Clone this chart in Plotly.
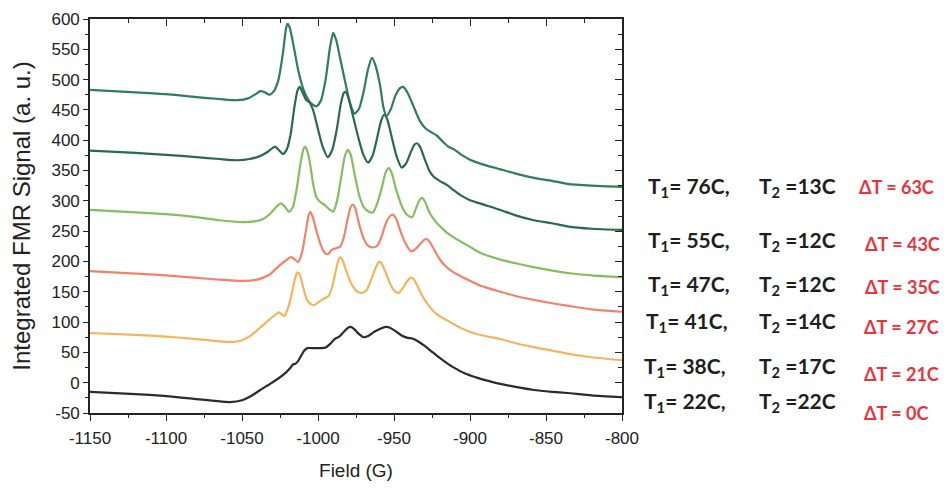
import plotly.graph_objects as go

# ---------------- data ----------------
field_76 = [-1150, -1120, -1100, -1080, -1065, -1053, -1046, -1041, -1038, -1035, -1032, -1029, -1026, -1023,
            -1021, -1020, -1018.5, -1016, -1013, -1009, -1005, -1001, -998, -995, -992, -990, -988, -985,
            -982, -979, -976, -973, -970, -967, -964.5, -962, -959, -957, -955, -952, -949, -946, -944,
            -941, -937, -933, -929, -926, -922, -918, -914, -910, -905, -900, -890, -880, -870, -858,
            -846, -836, -820, -800]
sig_76 = [483, 479, 476, 471, 468, 466, 469, 476, 481, 479, 475, 481, 500, 545,
          585, 592, 585, 555, 515, 480, 462, 456, 466, 500, 555, 577, 565, 530,
          495, 462, 444, 452, 480, 518, 536, 522, 488, 455, 440, 452, 474, 486, 488,
          478, 455, 432, 419, 414, 408, 398, 389, 384, 375, 368, 359, 352, 345, 338,
          333, 328, 325, 323]

field_55 = [-1150, -1120, -1100, -1080, -1065, -1053, -1045, -1038, -1033, -1030, -1028, -1025.5, -1023, -1020.5,
            -1018, -1015.5, -1013.5, -1012, -1010, -1008, -1005.5, -1003, -1000, -997, -993.5, -990.5, -987.5,
            -985, -983, -982, -980, -977, -973, -970, -967, -964, -961, -958.5, -956.5, -954.5, -951.5,
            -948.5, -945, -942, -939, -936.5, -935, -933, -930, -927, -924, -920, -915, -911, -906, -900,
            -890, -880, -870, -858, -846, -836, -820, -800]
sig_55 = [383, 379, 376, 372, 369, 367, 369, 374, 381, 387, 389, 383, 377, 385,
          410, 455, 482, 488, 478, 467, 462, 448, 418, 390, 372, 385, 420,
          460, 478, 480, 470, 440, 400, 375, 363, 375, 405, 432, 442, 435, 405,
          375, 355, 362, 380, 393, 395, 390, 370, 351, 340, 333, 326, 318, 309, 301,
          293, 285, 276, 268, 263, 258, 254, 252]

field_47 = [-1150, -1120, -1100, -1080, -1065, -1050, -1042, -1036, -1031, -1027, -1024.5, -1022, -1019, -1016.5,
            -1014, -1011.5, -1009.5, -1008.5, -1007, -1005, -1003, -1001, -998.5, -995.5, -992.5, -990, -987.5,
            -985, -982.5, -980.5, -978.5, -976, -973, -970, -966.5, -963.8, -961, -958, -955.5, -953.5, -951.5,
            -948.5, -945, -941.5, -938, -935.5, -933, -931.5, -929.5, -926.5, -922, -918, -915, -911.5, -907,
            -900, -893, -880, -870, -859, -846, -836, -820, -800]
sig_47 = [285, 281, 278, 273, 268, 265, 266, 270, 280, 291, 296, 291, 282, 290,
          320, 362, 386, 389, 382, 358, 325, 306, 298, 293, 286, 282, 300,
          335, 372, 384, 376, 345, 310, 290, 282, 281, 296, 322, 347, 354, 346,
          318, 292, 277, 273, 288, 302, 305, 298, 280, 264, 254, 247, 241, 234,
          224, 214, 203, 197, 191, 185, 181, 177, 174]

field_41 = [-1150, -1120, -1100, -1080, -1065, -1049, -1040, -1032, -1026, -1021, -1018, -1015.5, -1013, -1010.5,
            -1008, -1006, -1005, -1003.5, -1001, -998, -995.5, -993.5, -991, -988, -985.5, -983, -980.5,
            -978.5, -977, -975.5, -973, -970, -967, -964, -961, -958, -955.5, -952.5, -950.5, -948.5, -945.5,
            -942, -939, -936.5, -933, -930, -928.5, -926.5, -923, -919.5, -916, -912, -908, -900, -893,
            -880, -870, -859, -846, -836, -820, -800]
sig_41 = [184, 180, 177, 173, 170, 168, 170, 178, 192, 202, 207, 204, 199, 215,
          250, 278, 282, 274, 250, 226, 214, 212, 219, 222, 224, 240, 270,
          290, 294, 288, 262, 238, 226, 223, 226, 242, 262, 275, 277, 270, 248,
          228, 217, 219, 228, 236, 237, 232, 217, 202, 192, 184, 178, 168, 160,
          150, 143, 137, 131, 127, 121, 117]

field_38 = [-1150, -1120, -1100, -1080, -1068, -1058, -1050, -1044, -1038, -1032, -1028, -1026, -1024, -1022,
            -1019.5, -1017, -1015, -1013.5, -1012, -1010, -1007.5, -1005, -1002.5, -999, -996, -993.5, -991,
            -988.5, -986.5, -985.5, -984, -981.5, -978, -974.5, -971, -968, -965, -962, -960, -958.5, -956,
            -952.5, -949.5, -947, -944.5, -941.5, -939, -937.5, -935, -931.5, -928, -924, -919.5, -916,
            -911, -905, -898, -890, -880, -870, -859, -846, -836, -820, -800]
sig_38 = [82, 79, 76, 72, 69, 67, 70, 78, 91, 104, 112, 116, 113, 110,
          125, 150, 173, 182, 178, 160, 138, 130, 128, 134, 139, 142, 155,
          182, 203, 207, 203, 185, 163, 151, 148, 153, 170, 190, 199, 198, 185,
          163, 151, 148, 155, 167, 173, 172, 162, 144, 130, 118, 109, 104,
          97, 89, 82, 77, 72, 65, 59, 53, 48, 42, 37]

field_22 = [-1150, -1120, -1100, -1080, -1068, -1058, -1050, -1044, -1038, -1031, -1025, -1021, -1018, -1016.5,
            -1015, -1013, -1011, -1009, -1007, -1003, -998, -995, -992, -989, -986, -983, -980, -978.5,
            -976, -973, -970, -967, -963, -959, -955.5, -953, -949, -945, -941, -938, -934, -930, -926,
            -921, -915, -910, -904, -895, -885, -880, -870, -858, -846, -836, -820, -800]
sig_22 = [-15, -19, -22, -27, -30, -32, -29, -22, -12, -1, 9, 17, 25, 30,
          31, 36, 45, 53, 57, 57, 57, 58, 64, 72, 76, 84, 91, 92,
          88, 80, 75, 77, 84, 89, 92, 91, 85, 78, 74, 73, 68, 61, 53,
          43, 32, 24, 16, 8, 1, -2, -7, -12, -15, -17, -21, -24]

series_fields = [field_76, field_55, field_47, field_41, field_38, field_22]
series_signals = [sig_76, sig_55, sig_47, sig_41, sig_38, sig_22]
series_colors = ["#2f7d5a", "#2a6a4c", "#86bd5f", "#f2826c", "#f5b45c", "#2b2b2b"]

t1_labels = ["76C", "55C", "47C", "41C", "38C", "22C"]
t2_labels = ["13C", "12C", "12C", "14C", "17C", "22C"]
dt_labels = ["63C", "43C", "35C", "27C", "21C", "0C"]

x_ticks = [-1150, -1100, -1050, -1000, -950, -900, -850, -800]
x_ticktext = ["-1150", "-1100", "-1050", "-1000", "-950", "-900", "-850", "-800"]
y_ticks = [600, 550, 500, 450, 400, 350, 300, 250, 200, 150, 100, 50, 0, -50]
y_ticktext = ["600", "550", "500", "450", "400", "350", "300", "250", "200", "150", "100", "50", "0", "-50"]
X_RANGE = [-1150, -800]
Y_RANGE = [-50, 600]

x_minor = [X_RANGE[0] + 25 * k for k in range(int((X_RANGE[1] - X_RANGE[0]) / 25) + 1)]
y_minor = [Y_RANGE[0] + 25 * k for k in range(int((Y_RANGE[1] - Y_RANGE[0]) / 25) + 1)]

# ---------------- figure ----------------
W, H = 949, 498
ML, MR, MT, MB = 90, 327, 19, 85
PW, PH = W - ML - MR, H - MT - MB

fig = go.Figure()
for xs, ys, col in zip(series_fields, series_signals, series_colors):
    fig.add_trace(go.Scatter(x=xs, y=ys, mode="lines",
                             line=dict(color=col, width=2.2, shape="spline", smoothing=0.6),
                             showlegend=False, hoverinfo="skip"))

INK = "#222"
axis_font = dict(family="Liberation Sans, Arial", size=17, color=INK)

fig.update_layout(
    width=W, height=H,
    margin=dict(l=ML, r=MR, t=MT, b=MB, autoexpand=False),
    paper_bgcolor="white", plot_bgcolor="white",
    xaxis=dict(range=X_RANGE, tickmode="array", tickvals=x_ticks, ticktext=x_ticktext,
               ticks="outside", ticklen=6, tickwidth=1.4, tickcolor=INK,
               showline=True, linecolor=INK, linewidth=1.6, ticklabelstandoff=3,
               showgrid=False, zeroline=False, tickfont=axis_font,
               minor=dict(tickmode="array", tickvals=x_minor, ticks="outside", ticklen=3,
                          tickwidth=1.3, tickcolor=INK, showgrid=False),
               title=dict(text="Field (G)", font=dict(family="Liberation Sans, Arial", size=19, color=INK),
                          standoff=16)),
    yaxis=dict(range=Y_RANGE, tickmode="array", tickvals=y_ticks, ticktext=y_ticktext,
               ticks="outside", ticklen=5, tickwidth=1.4, tickcolor=INK,
               showline=True, linecolor=INK, linewidth=1.6,
               showgrid=False, zeroline=False, tickfont=axis_font,
               minor=dict(tickmode="array", tickvals=y_minor, ticks="outside", ticklen=3,
                          tickwidth=1.3, tickcolor=INK, showgrid=False),
               title=dict(text="Integrated FMR Signal (a. u.)",
                          font=dict(family="Liberation Sans, Arial", size=24, color=INK),
                          standoff=14)),
    xaxis2=dict(range=X_RANGE, overlaying="x", side="top", tickmode="array", tickvals=x_ticks,
                ticks="inside", ticklen=7, tickwidth=1.4, tickcolor=INK, showticklabels=False,
                showline=True, linecolor=INK, linewidth=1.6, showgrid=False, zeroline=False,
                minor=dict(tickmode="array", tickvals=x_minor, ticks="inside", ticklen=4,
                           tickwidth=1.3, tickcolor=INK, showgrid=False)),
    yaxis2=dict(range=Y_RANGE, overlaying="y", side="right", tickmode="array", tickvals=y_ticks,
                ticks="inside", ticklen=7, tickwidth=1.4, tickcolor=INK, showticklabels=False,
                showline=True, linecolor=INK, linewidth=1.6, showgrid=False, zeroline=False,
                minor=dict(tickmode="array", tickvals=y_minor, ticks="inside", ticklen=4,
                           tickwidth=1.3, tickcolor=INK, showgrid=False)),
)

# invisible helper trace so the mirrored (top/right) axes are drawn
fig.add_trace(go.Scatter(x=X_RANGE, y=Y_RANGE, xaxis="x2", yaxis="y2", mode="lines",
                         line=dict(width=0), opacity=0, showlegend=False, hoverinfo="skip"))


def px_x(px):
    return (px - ML) / PW


def px_y(py):
    return (H - MB - py) / PH


row_y = [187, 241, 285, 322, 367, 402]
dt_y = [187, 244, 287, 327, 374, 413]
t1_x = [646, 646, 646, 644, 642, 642]
dt_x = [857, 863, 863, 862, 862, 862]

lab_font = dict(family="Lato, Noto Sans", size=21, color="#1e1e1e")
dt_font = dict(family="Lato, Noto Sans", size=18, color="#e8343c")
for i in range(6):
    fig.add_annotation(text="<b>T<sub>1</sub>= " + t1_labels[i] + ",</b>", xref="paper", yref="paper",
                       x=px_x(t1_x[i]), y=px_y(row_y[i]), xanchor="left", yanchor="middle",
                       showarrow=False, font=lab_font)
    fig.add_annotation(text="<b>T<sub>2</sub> =" + t2_labels[i] + "</b>", xref="paper", yref="paper",
                       x=px_x(757), y=px_y(row_y[i]), xanchor="left", yanchor="middle",
                       showarrow=False, font=lab_font)
    fig.add_annotation(text="<b>ΔT = " + dt_labels[i] + "</b>", xref="paper", yref="paper",
                       x=px_x(dt_x[i]), y=px_y(dt_y[i]), xanchor="left", yanchor="middle",
                       showarrow=False, font=dt_font)

fig.write_html("out.html")
